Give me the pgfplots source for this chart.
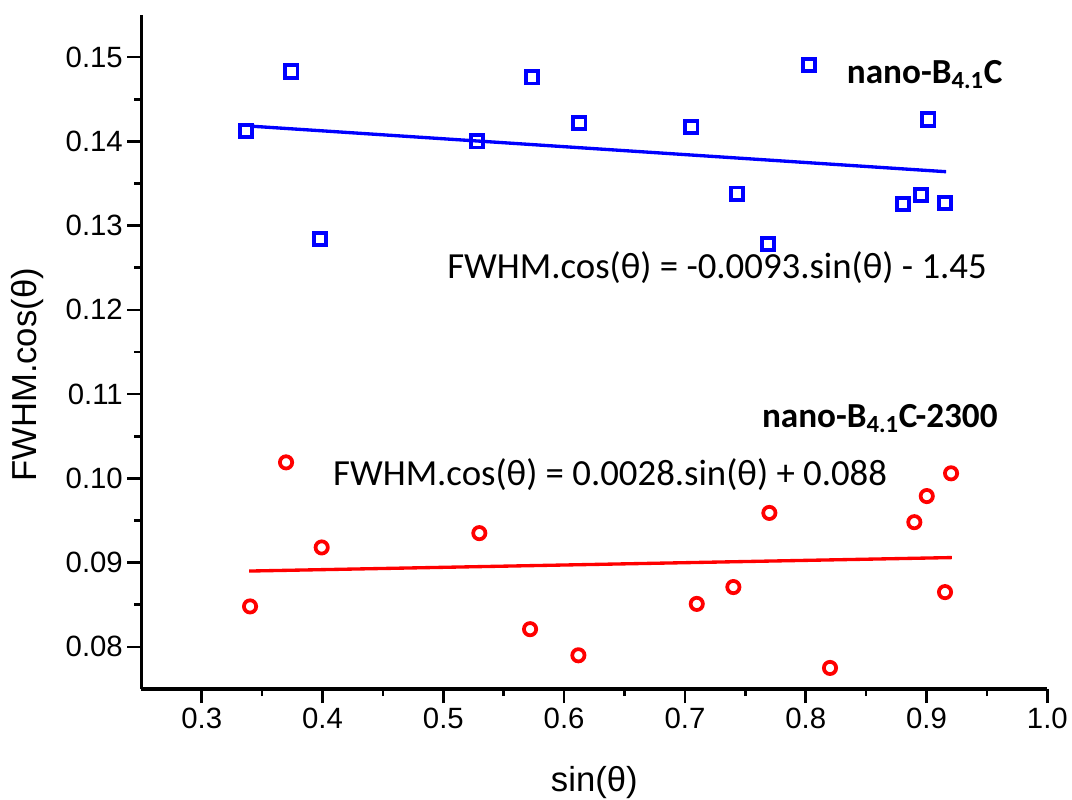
\documentclass[border=0pt]{standalone}
\usepackage{fontspec}
\setmainfont{Liberation Sans}
\newfontfamily\calibri{Carlito}
\usepackage{pgfplots}
\pgfplotsset{compat=1.18}
\definecolor{pblue}{RGB}{0,0,255}
\definecolor{pred}{RGB}{255,0,0}
\begin{document}
\begin{tikzpicture}
\begin{axis}[
  at={(0,0)}, anchor=south west,
  width=679.5pt, height=505.5pt, scale only axis,
  xmin=0.25, xmax=1.0, ymin=0.075, ymax=0.155,
  axis x line*=bottom, axis y line*=left,
  axis line style={-, line width=2.3pt, black},
  xtick={0.3,0.4,0.5,0.6,0.7,0.8,0.9,1.0},
  ytick={0.08,0.09,0.10,0.11,0.12,0.13,0.14,0.15},
  xticklabels={\mbox{0.3},\mbox{0.4},\mbox{0.5},\mbox{0.6},\mbox{0.7},\mbox{0.8},\mbox{0.9},\mbox{1.0}},
  yticklabels={\mbox{0.08},\mbox{0.09},\mbox{0.10},\mbox{0.11},\mbox{0.12},\mbox{0.13},\mbox{0.14},\mbox{0.15}},
  minor x tick num=1, minor y tick num=1,
  tick align=outside,
  major tick length=10.5pt, minor tick length=5.3pt,
  every tick/.style={line width=2pt, black},
  tick label style={font=\fontsize{22}{26}\selectfont, inner sep=3.2pt},
  xlabel={sin(θ)}, ylabel={FWHM.cos(θ)},
  label style={font=\fontsize{26}{30}\selectfont},
  xlabel style={at={(axis description cs:0.5,0)}, yshift=-70.5pt, anchor=center},
  ylabel style={at={(axis description cs:-0.1261,0.466)}, anchor=center},
  clip=false,
]
% blue squares
\addplot[only marks, mark=square, mark size=4.6pt, mark options={line width=2.9pt, draw=pblue, fill=none}] coordinates {
(0.3367,0.1412) (0.3742,0.1483) (0.3979,0.1284) (0.5281,0.1400) (0.5732,0.1476)
(0.6126,0.1422) (0.7053,0.1417) (0.7429,0.1338) (0.7688,0.1278) (0.8027,0.1491)
(0.8803,0.1326) (0.8954,0.1336) (0.9015,0.1426) (0.9153,0.1327)
};
\addplot[pblue, line width=2.5pt, no marks] coordinates {(0.3414,0.1418) (0.9162,0.1364)};
% red circles
\addplot[only marks, mark=o, mark size=4.6pt, mark options={line width=2.8pt, draw=pred, fill=none}] coordinates {
(0.3400,0.0848) (0.3698,0.1019) (0.3993,0.0918) (0.5298,0.0935) (0.5718,0.0821)
(0.6118,0.0790) (0.7098,0.0851) (0.7401,0.0871) (0.7699,0.0959) (0.8201,0.0775)
(0.8899,0.0948) (0.9002,0.0979) (0.9153,0.0865) (0.9203,0.1006)
};
\addplot[pred, line width=2.5pt, no marks] coordinates {(0.3392,0.0890) (0.9209,0.0906)};
\node[anchor=base west, inner sep=0pt, font=\calibri\bfseries\fontsize{26.4}{30}\selectfont] at (axis cs:0.8339,0.1469) {nano-B\textsubscript{4.1}C};
\node[anchor=base west, inner sep=0pt, font=\calibri\fontsize{27.6}{32}\selectfont] at (axis cs:0.5031,0.1237) {FWHM.cos(θ) = -0.0093.sin(θ) - 1.45};
\node[anchor=base west, inner sep=0pt, font=\calibri\bfseries\fontsize{26.4}{30}\selectfont] at (axis cs:0.7636,0.1060) {nano-B\textsubscript{4.1}C-2300};
\node[anchor=base west, inner sep=0pt, font=\calibri\fontsize{27.6}{32}\selectfont] at (axis cs:0.4086,0.0992) {FWHM.cos(θ) = 0.0028.sin(θ) + 0.088};
\end{axis}
\pgfresetboundingbox
\path[use as bounding box] (-106pt,-83.25pt) rectangle (698pt,516.75pt);
\end{tikzpicture}
\end{document}
